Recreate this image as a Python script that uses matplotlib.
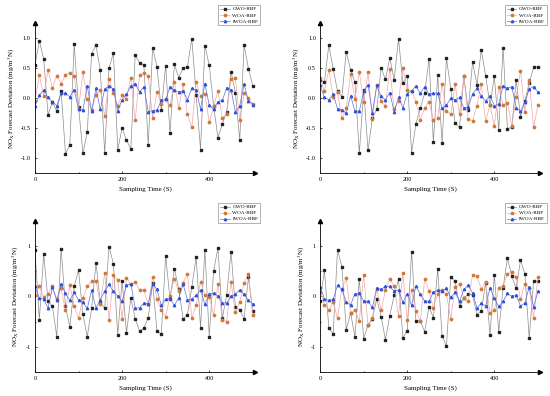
import matplotlib
matplotlib.use('Agg')
import matplotlib.pyplot as plt
from matplotlib.ticker import MultipleLocator, FormatStrFormatter

plt.rcParams['font.family'] = ['Liberation Serif', 'DejaVu Serif']
plt.rcParams['mathtext.fontset'] = 'stix'
plt.rcParams['axes.unicode_minus'] = True

# ------------------------------
# data
# ------------------------------
times = list(range(0, 501, 10))
names = ['GWO-RBF', 'WOA-RBF', 'IWOA-RBF']

gwo_a = [0.55, 0.95, 0.65, -0.28, -0.07, -0.22, 0.12, -0.93, -0.78, 0.90,
         -0.15, -0.92, -0.57, 0.74, 0.88, 0.46, -0.92, 0.50, 0.75, -0.86,
         -0.50, -0.70, -0.85, 0.71, 0.59, 0.55, -0.79, 0.84, 0.52, -0.20,
         0.54, -0.59, 0.56, 0.34, 0.50, 0.52, 0.99, 0.05, -0.86, 0.87,
         0.55, -0.13, -0.66, -0.43, -0.23, 0.44, 0.09, -0.70, 0.88, 0.49,
         0.20]
woa_a = [-0.05, 0.39, 0.03, 0.47, 0.16, 0.37, 0.24, 0.39, 0.42, 0.37,
         -0.19, 0.44, -0.02, -0.20, 0.05, 0.13, -0.30, 0.32, 0.09, -0.13,
         0.05, -0.01, 0.33, -0.37, 0.38, 0.41, 0.37, -0.33, 0.10, -0.10,
         -0.02, -0.12, 0.27, -0.17, 0.23, -0.27, -0.49, 0.27, 0.03, 0.07,
         -0.40, -0.14, 0.12, -0.33, -0.27, 0.32, 0.34, -0.37, 0.08, 0.00,
         -0.10]
iwoa_a = [-0.14, 0.05, 0.13, 0.01, -0.06, -0.13, 0.08, 0.08, 0.02, 0.14,
          -0.19, -0.20, 0.20, -0.22, 0.16, -0.19, 0.15, 0.20, 0.15, -0.21,
          -0.03, 0.06, 0.20, 0.24, 0.10, 0.19, -0.23, -0.21, -0.20, -0.04,
          -0.02, 0.18, 0.13, 0.10, 0.12, -0.03, 0.16, 0.13, -0.18, 0.24,
          -0.12, -0.19, -0.06, -0.04, 0.17, 0.14, -0.23, -0.13, 0.23, -0.05,
          -0.11]

gwo_b = [0.30, 0.27, 0.88, 0.49, 0.11, 0.02, 0.77, 0.47, 0.26, -0.92,
         0.13, -0.87, -0.33, -0.19, 0.50, 0.31, 0.67, 0.30, 0.99, 0.25,
         0.37, -0.91, -0.43, -0.17, 0.08, 0.65, -0.73, 0.38, -0.75, 0.66,
         0.15, -0.42, -0.49, 0.36, -0.20, 0.60, 0.22, 0.80, 0.37, -0.12,
         0.36, -0.54, 0.84, -0.51, -0.49, 0.30, -0.31, -0.05, 0.25, 0.51,
         0.52]
woa_b = [0.33, 0.11, 0.47, 0.01, 0.10, -0.34, -0.17, 0.40, -0.02, 0.44,
         -0.07, 0.43, -0.35, 0.21, -0.05, -0.14, 0.49, -0.19, -0.05, 0.50,
         0.13, 0.12, -0.06, -0.36, -0.17, -0.06, -0.37, -0.33, 0.23, -0.22,
         -0.27, 0.23, -0.27, 0.37, -0.35, -0.38, -0.13, 0.23, -0.39, -0.11,
         -0.47, 0.18, -0.12, -0.08, -0.47, 0.02, 0.45, -0.23, 0.30, -0.49,
         -0.12]
iwoa_b = [0.21, 0.01, -0.03, 0.06, -0.18, -0.20, -0.25, 0.04, -0.22, -0.22,
          0.11, 0.22, -0.25, 0.21, 0.03, -0.03, 0.09, -0.23, 0.01, -0.16,
          0.07, 0.12, 0.20, 0.08, 0.19, 0.06, 0.08, 0.08, -0.17, -0.12,
          0.00, -0.03, 0.01, -0.17, -0.15, 0.07, 0.16, 0.04, -0.05, 0.04,
          -0.13, -0.10, 0.20, 0.16, 0.19, -0.16, -0.22, -0.07, 0.15, 0.19,
          0.10]

gwo_c = [0.92, -0.46, 0.84, -0.10, -0.19, -0.80, 0.95, -0.20, -0.60, 0.20,
         0.52, -0.35, -0.80, -0.24, 0.66, -0.12, -0.24, 0.99, 0.65, -0.76,
         0.31, -0.73, -0.03, -0.44, -0.69, -0.63, -0.42, 0.26, -0.68, -0.75,
         0.81, -0.06, 0.55, 0.15, -0.45, -0.36, 0.18, 0.79, -0.62, 0.93,
         -0.80, 0.50, 0.97, -0.43, 0.02, 0.89, -0.21, -0.27, -0.44, 0.38,
         -0.30]
woa_c = [0.03, 0.20, -0.02, 0.05, 0.20, -0.05, 0.16, -0.28, 0.22, -0.19,
         -0.43, -0.04, 0.20, 0.31, 0.31, -0.15, 0.47, -0.47, 0.42, 0.33,
         -0.45, 0.37, 0.24, 0.29, 0.13, 0.13, -0.16, 0.38, -0.05, -0.27,
         -0.40, 0.01, 0.34, 0.11, 0.27, 0.45, -0.43, -0.17, 0.29, 0.03,
         -0.01, -0.37, 0.25, -0.47, -0.50, 0.29, -0.32, -0.12, 0.27, 0.45,
         -0.37]
iwoa_c = [0.21, -0.03, -0.06, -0.23, 0.18, -0.08, 0.24, 0.06, -0.08, 0.08,
          -0.07, -0.12, -0.24, 0.12, -0.23, -0.07, 0.11, 0.24, 0.10, 0.01,
          -0.10, 0.22, 0.25, -0.23, -0.23, -0.13, -0.15, 0.25, 0.14, -0.18,
          -0.05, -0.04, -0.18, -0.03, 0.24, -0.07, -0.05, 0.02, 0.13, -0.16,
          0.05, 0.06, 0.01, -0.13, -0.13, 0.00, 0.05, 0.13, 0.04, -0.08,
          -0.15]

gwo_d = [-0.10, 0.52, -0.62, -0.75, 0.93, 0.59, -0.66, -0.33, -0.80, 0.35,
         -0.84, -0.57, -0.45, -0.05, -0.40, -0.86, -0.38, 0.02, 0.34, -0.82,
         -0.68, 0.89, -0.49, -0.49, -0.70, -0.21, -0.42, 0.54, -0.78, -0.99,
         0.38, 0.30, -0.19, -0.03, 0.04, 0.03, -0.36, -0.29, 0.27, -0.76,
         0.43, -0.70, 0.16, 0.76, 0.41, 0.16, 0.72, 0.45, -0.83, 0.30,
         0.30]
woa_d = [0.08, -0.17, -0.28, -0.12, -0.43, 0.15, 0.36, -0.33, -0.28, -0.49,
         0.43, -0.57, -0.43, 0.15, -0.28, 0.13, 0.35, 0.20, -0.38, 0.47,
         -0.47, 0.12, -0.30, -0.49, 0.34, 0.11, -0.23, 0.04, 0.13, 0.04,
         -0.44, 0.19, 0.25, -0.03, -0.10, 0.43, 0.40, 0.15, 0.28, -0.33,
         -0.27, 0.17, 0.21, 0.45, 0.48, 0.38, -0.06, 0.25, 0.17, -0.43,
         0.39]
iwoa_d = [0.19, -0.05, -0.08, -0.06, 0.22, 0.14, -0.11, -0.17, 0.05, 0.07,
          -0.09, -0.10, -0.22, 0.17, 0.14, 0.20, 0.20, 0.10, 0.13, -0.12,
          0.05, -0.18, 0.21, 0.04, -0.09, -0.10, 0.09, 0.12, 0.11, 0.16,
          -0.02, 0.08, -0.10, 0.14, 0.22, 0.07, -0.23, -0.14, -0.19, 0.17,
          -0.04, -0.20, -0.10, 0.06, 0.00, 0.02, -0.19, -0.13, 0.19, -0.21,
          0.10]

panels = [(gwo_a, woa_a, iwoa_a), (gwo_b, woa_b, iwoa_b),
          (gwo_c, woa_c, iwoa_c), (gwo_d, woa_d, iwoa_d)]

# ------------------------------
# figure
# ------------------------------
fig = plt.figure(figsize=(5.5, 3.96), dpi=100)

# [left, bottom, width, height] in figure fraction
boxes = [[0.0636, 0.563, 0.40, 0.379],
         [0.582, 0.563, 0.40, 0.379],
         [0.0636, 0.061, 0.40, 0.381],
         [0.582, 0.061, 0.40, 0.381]]

styles = [dict(color='#8c8c8c', marker='s', mfc='#222222', mec='#222222'),
          dict(color='#f4a6a6', marker='o', mfc='#d07a3a', mec='#d07a3a'),
          dict(color='#5a6ee0', marker='^', mfc='#3050d8', mec='#3050d8')]

for i, (box, series) in enumerate(zip(boxes, panels)):
    ax = fig.add_axes(box)
    for vals, name, st in zip(series, names, styles):
        ax.plot(times, vals, lw=0.5, ms=1.7, label=name, **st)

    ax.set_xlim(0, 505)
    if i < 2:
        ax.set_ylim(-1.25, 1.25)
        ax.yaxis.set_major_locator(MultipleLocator(0.5))
        ax.yaxis.set_major_formatter(FormatStrFormatter('%.1f'))
    else:
        ax.set_ylim(-1.5, 1.5)
        ax.yaxis.set_major_locator(MultipleLocator(1))
        ax.yaxis.set_minor_locator(MultipleLocator(0.5))
        ax.yaxis.set_major_formatter(FormatStrFormatter('%d'))
    ax.xaxis.set_major_locator(MultipleLocator(200))
    ax.xaxis.set_minor_locator(MultipleLocator(100))

    ax.spines['top'].set_visible(False)
    ax.spines['right'].set_visible(False)
    ax.spines['left'].set_linewidth(0.6)
    ax.spines['bottom'].set_linewidth(0.6)
    ax.tick_params(which='both', direction='in', length=1.5, width=0.5,
                   labelsize=4.5, pad=3)
    ax.tick_params(which='minor', length=1)

    # arrows at axis ends
    ax.plot(1, 0, '>k', ms=3, transform=ax.transAxes, clip_on=False)
    ax.plot(0, 1, '^k', ms=3, transform=ax.transAxes, clip_on=False)

    ax.set_xlabel('Sampling Time (S)', fontsize=5, labelpad=3)
    ax.set_ylabel(r'NO$_{\mathrm{X}}$ Forecast Deviation (mg/m$^3$N)',
                  fontsize=5, labelpad=3)

    x_anchor = 1.023 if i % 2 == 0 else 1.03
    lg = ax.legend(loc='upper right', bbox_to_anchor=(x_anchor, 1.12),
                   fontsize=3.8, frameon=True, fancybox=False, edgecolor='#555555',
                   handlelength=1.8, handletextpad=0.5, borderpad=0.35,
                   labelspacing=0.25, borderaxespad=0)
    lg.get_frame().set_linewidth(0.4)

fig.savefig('out.png', dpi=100)
